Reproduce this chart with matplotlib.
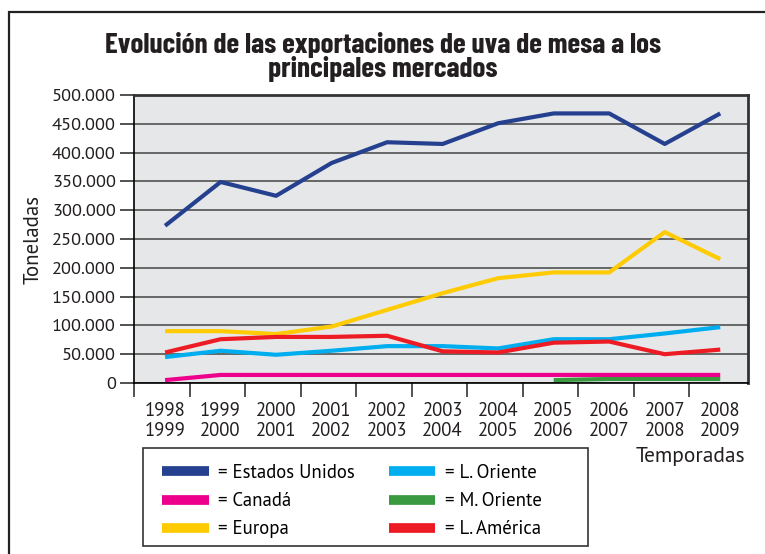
import matplotlib.pyplot as plt
import numpy as np
from matplotlib.patches import Rectangle

temporadas = ["1998\n1999", "1999\n2000", "2000\n2001", "2001\n2002", "2002\n2003",
              "2003\n2004", "2004\n2005", "2005\n2006", "2006\n2007", "2007\n2008",
              "2008\n2009"]

estados_unidos = [273000, 349000, 325000, 382000, 418000, 415000, 451000, 468000, 468000, 415000, 468000]
canada = [5000, 14000, 14000, 14000, 14000, 14000, 14000, 14000, 14000, 14000, 14000]
europa = [90000, 90000, 85000, 98000, 127000, 156000, 182000, 192000, 192000, 262000, 215000]
l_oriente = [45000, 56000, 49000, 56000, 64000, 64000, 60000, 76000, 76000, 86000, 97000]
m_oriente = [np.nan, np.nan, np.nan, np.nan, np.nan, np.nan, np.nan, 5000, 7000, 7000, 7000]
l_america = [53000, 76000, 80000, 80000, 82000, 55000, 53000, 70000, 72000, 50000, 58000]

y_ticks = [0, 50000, 100000, 150000, 200000, 250000, 300000, 350000, 400000, 450000, 500000]

FONT = ["Myriad Pro", "PT Sans", "Open Sans", "DejaVu Sans"]
TITLE_FONT = ["Barlow Condensed", "Asap Condensed", "DejaVu Sans"]
plt.rcParams["font.family"] = FONT
TXT = "#231f20"

W, H = 765, 554
fig = plt.figure(figsize=(W / 100, H / 100), dpi=100)

# outer frame (runs off the right and bottom edges)
fig.patches.append(Rectangle((9 / W, -0.1), 1.2, 1 - 12 / H + 0.1, transform=fig.transFigure,
                             fill=False, edgecolor="#222222", linewidth=1.6))

fig.text(383 / W, 1 - 45 / H, "Evolución de las exportaciones de uva de mesa a los",
         ha="center", va="center", fontsize=21, fontweight="bold", family=TITLE_FONT, color=TXT)
fig.text(383 / W, 1 - 69 / H, "principales mercados",
         ha="center", va="center", fontsize=21, fontweight="bold", family=TITLE_FONT, color=TXT)

ax = fig.add_axes([134 / W, 1 - 383 / H, (748 - 134) / W, (383 - 95) / H])
ax.set_facecolor("#e6e7e9")

x = np.arange(len(temporadas))
series = [
    (estados_unidos, "#25408f", "= Estados Unidos", 3),
    (canada, "#ec008c", "= Canadá", 4),
    (europa, "#ffcb05", "= Europa", 3),
    (l_oriente, "#00aeef", "= L. Oriente", 3),
    (m_oriente, "#3a9a3f", "= M. Oriente", 2),
    (l_america, "#ed1c24", "= L. América", 3),
]
for vals, col, lab, z in series:
    ax.plot(x, vals, color=col, linewidth=3, label=lab, solid_capstyle="butt", zorder=z)

ax.set_xlim(-0.56, 10.5)
ax.set_ylim(0, 500000)
ax.set_yticks(y_ticks)
ax.set_yticklabels([f"{v:,}".replace(",", ".") for v in y_ticks])
ax.yaxis.grid(True, color="#444444", linewidth=1.1)
ax.set_axisbelow(True)

ax.set_xticks(x)
ax.set_xticklabels(temporadas, linespacing=1.1)
ax.set_xticks(x - 0.56, minor=True)
ax.tick_params(axis="x", which="major", length=0, pad=14, labelsize=13.5, labelcolor=TXT)
ax.tick_params(axis="x", which="minor", length=10, width=1.2, direction="out", color="#333333")
ax.tick_params(axis="y", length=10, width=1.2, direction="out", color="#333333",
               labelsize=13.2, labelcolor=TXT, pad=3)

for side in ["top", "right"]:
    ax.spines[side].set_linewidth(2)
    ax.spines[side].set_color("#333333")
ax.spines["left"].set_linewidth(1.2)
ax.spines["bottom"].set_linewidth(1.2)

ax.set_ylabel("Toneladas", fontsize=15, color=TXT, labelpad=7)
fig.text(745 / W, 1 - 457 / H, "Temporadas", ha="right", va="center", fontsize=15.5, color=TXT)

# legend frame drawn by hand so its width matches the reference
fig.patches.append(Rectangle((143 / W, 1 - 546 / H), (588 - 143) / W, (546 - 448) / H,
                             transform=fig.transFigure, fill=False,
                             edgecolor="#333333", linewidth=1.2))
handles, labels = ax.get_legend_handles_labels()
leg = fig.legend(handles, labels, ncol=2,
                 loc="upper left", bbox_to_anchor=(158 / W, 1 - 460 / H),
                 fontsize=13.5, frameon=False,
                 handlelength=2.5, handletextpad=0.5, columnspacing=1.8, labelspacing=0.55,
                 borderpad=0.2, borderaxespad=0)
for line in leg.get_lines():
    line.set_linewidth(7)

fig.savefig("out.png", dpi=100)
